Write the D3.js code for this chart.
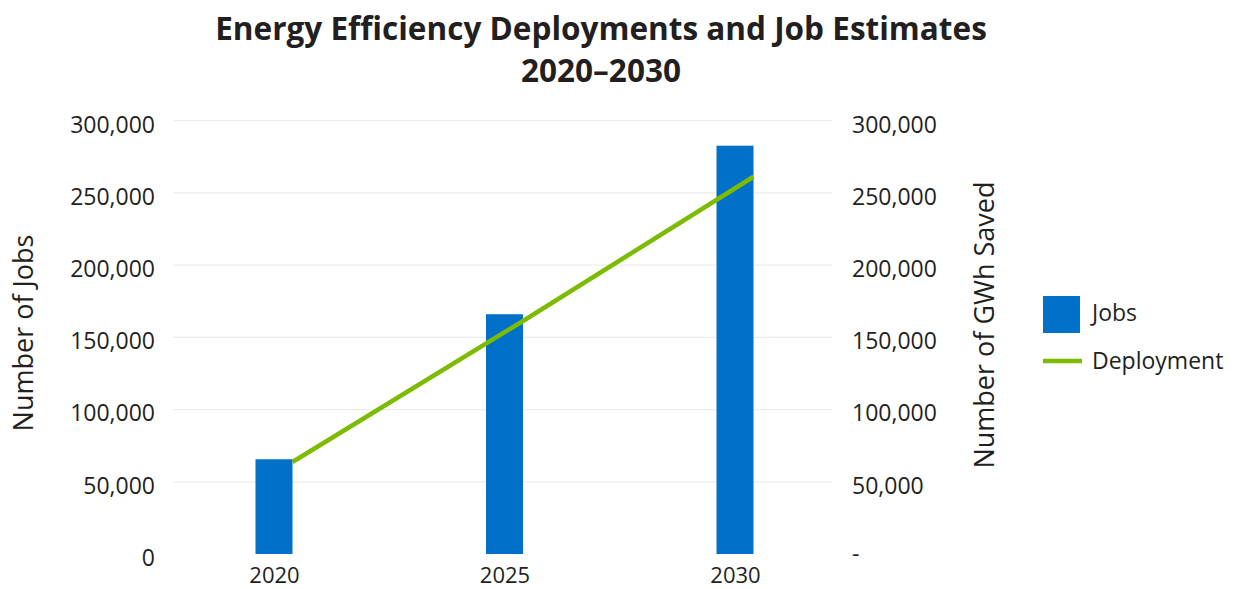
<!DOCTYPE html>
<html>
<head>
<meta charset="utf-8">
<script src="https://cdn.jsdelivr.net/npm/d3@7"></script>
<style>
  html, body { margin: 0; padding: 0; background: #ffffff; }
  svg { display: block; }
  text { font-family: "Open Sans", "Noto Sans", sans-serif; fill: #231f20; }
</style>
</head>
<body>
<svg id="chart" width="1236" height="589"></svg>
<script>
// Years on the category axis
const years = ["2020", "2025", "2030"];
// Estimated jobs (left axis)
const jobs = [65600, 166000, 282700];
// GWh saved by deployments (right axis)
const deployment = [63700, 161300, 261200];
// Value axis ticks
const yTicks = [0, 50000, 100000, 150000, 200000, 250000, 300000];

const titleLines = ["Energy Efficiency Deployments and Job Estimates", "2020\u20132030"];
const leftTitle = "Number of Jobs";
const rightTitle = "Number of GWh Saved";
const seriesNames = ["Jobs", "Deployment"];

const BLUE = "#0070c8";
const GREEN = "#7dbb00";

const svg = d3.select("#chart");

// plot area
const plot = { left: 173, right: 832, top: 120.7, bottom: 554 };
const barWidth = 37;

const x = d3.scalePoint()
  .domain(years)
  .range([plot.left + 101, plot.right - 97]);

const yLeft = d3.scaleLinear().domain([0, 300000]).range([plot.bottom, plot.top]);
const yRight = d3.scaleLinear().domain([0, 300000]).range([plot.bottom, plot.top]);

const fmt = d3.format(",");

// gridlines
svg.append("g")
  .selectAll("line")
  .data(yTicks.filter(d => d > 0))
  .join("line")
  .attr("x1", plot.left)
  .attr("x2", plot.right)
  .attr("y1", d => yLeft(d))
  .attr("y2", d => yLeft(d))
  .attr("stroke", "#ececec")
  .attr("stroke-width", 1.2);

// left axis
const leftAxis = svg.append("g")
  .attr("transform", `translate(${plot.left - 18},0)`)
  .call(d3.axisLeft(yLeft).tickValues(yTicks).tickFormat(fmt).tickSize(0).tickPadding(0));
leftAxis.select(".domain").remove();
leftAxis.selectAll("text")
  .attr("dy", "0.32em")
  .attr("y", 4)
  .style("font-size", "23px")
  .style("font-family", "\"Open Sans\", sans-serif")
  .attr("fill", "#231f20");

// right axis
const rightAxis = svg.append("g")
  .attr("transform", `translate(${plot.right + 20},0)`)
  .call(d3.axisRight(yRight).tickValues(yTicks)
    .tickFormat(d => d === 0 ? "-" : fmt(d)).tickSize(0).tickPadding(0));
rightAxis.select(".domain").remove();
rightAxis.selectAll("text")
  .attr("dy", "0.32em")
  .attr("y", d => d === 0 ? 0 : 4)
  .style("font-size", "23px")
  .style("font-family", "\"Open Sans\", sans-serif")
  .attr("fill", "#231f20");

// bottom axis
const bottomAxis = svg.append("g")
  .attr("transform", `translate(0,${plot.bottom})`)
  .call(d3.axisBottom(x).tickSize(0).tickPadding(0));
bottomAxis.select(".domain").remove();
bottomAxis.selectAll("text")
  .attr("dy", "0")
  .attr("y", 29)
  .style("font-size", "22px")
  .style("font-family", "\"Open Sans\", sans-serif")
  .attr("fill", "#231f20");

// bars
svg.append("g")
  .selectAll("rect")
  .data(years.map((y, i) => ({ year: y, value: jobs[i] })))
  .join("rect")
  .attr("x", d => x(d.year) - barWidth / 2)
  .attr("width", barWidth)
  .attr("y", d => yLeft(d.value))
  .attr("height", d => yLeft(0) - yLeft(d.value))
  .attr("fill", BLUE);

// deployment line, anchored on the right edge of each bar
const line = d3.line()
  .x(d => x(d.year) + barWidth / 2)
  .y(d => yRight(d.value));
svg.append("path")
  .datum(years.map((y, i) => ({ year: y, value: deployment[i] })))
  .attr("d", line)
  .attr("fill", "none")
  .attr("stroke", GREEN)
  .attr("stroke-width", 4.5);

// title
const title = svg.append("g");
const t1 = title.append("text")
  .attr("x", 601).attr("y", 40)
  .attr("text-anchor", "middle")
  .style("font-weight", "700")
  .style("font-size", "30px")
  .text(titleLines[0]);
const natural = t1.node().getComputedTextLength();
const titleSize = 30 * 772 / natural;
t1.style("font-size", titleSize + "px");
title.append("text")
  .attr("x", 601).attr("y", 82)
  .attr("text-anchor", "middle")
  .style("font-weight", "700")
  .style("font-size", titleSize + "px")
  .text(titleLines[1]);

// axis titles
svg.append("text")
  .attr("transform", "translate(33,333) rotate(-90)")
  .attr("text-anchor", "middle")
  .style("font-size", "27px")
  .style("font-weight", "500")
  .text(leftTitle);
svg.append("text")
  .attr("transform", "translate(994,325) rotate(-90)")
  .attr("text-anchor", "middle")
  .style("font-size", "27px")
  .style("font-weight", "500")
  .text(rightTitle);

// legend
const legend = svg.append("g");
legend.append("rect")
  .attr("x", 1043).attr("y", 296)
  .attr("width", 37).attr("height", 37)
  .attr("fill", BLUE);
legend.append("text")
  .attr("x", 1092).attr("y", 313)
  .attr("dy", "0.35em")
  .style("font-size", "23px")
  .text(seriesNames[0]);
legend.append("line")
  .attr("x1", 1043).attr("x2", 1082)
  .attr("y1", 361).attr("y2", 361)
  .attr("stroke", GREEN)
  .attr("stroke-width", 4.5);
legend.append("text")
  .attr("x", 1092).attr("y", 361)
  .attr("dy", "0.35em")
  .style("font-size", "23px")
  .text(seriesNames[1]);
</script>
</body>
</html>
